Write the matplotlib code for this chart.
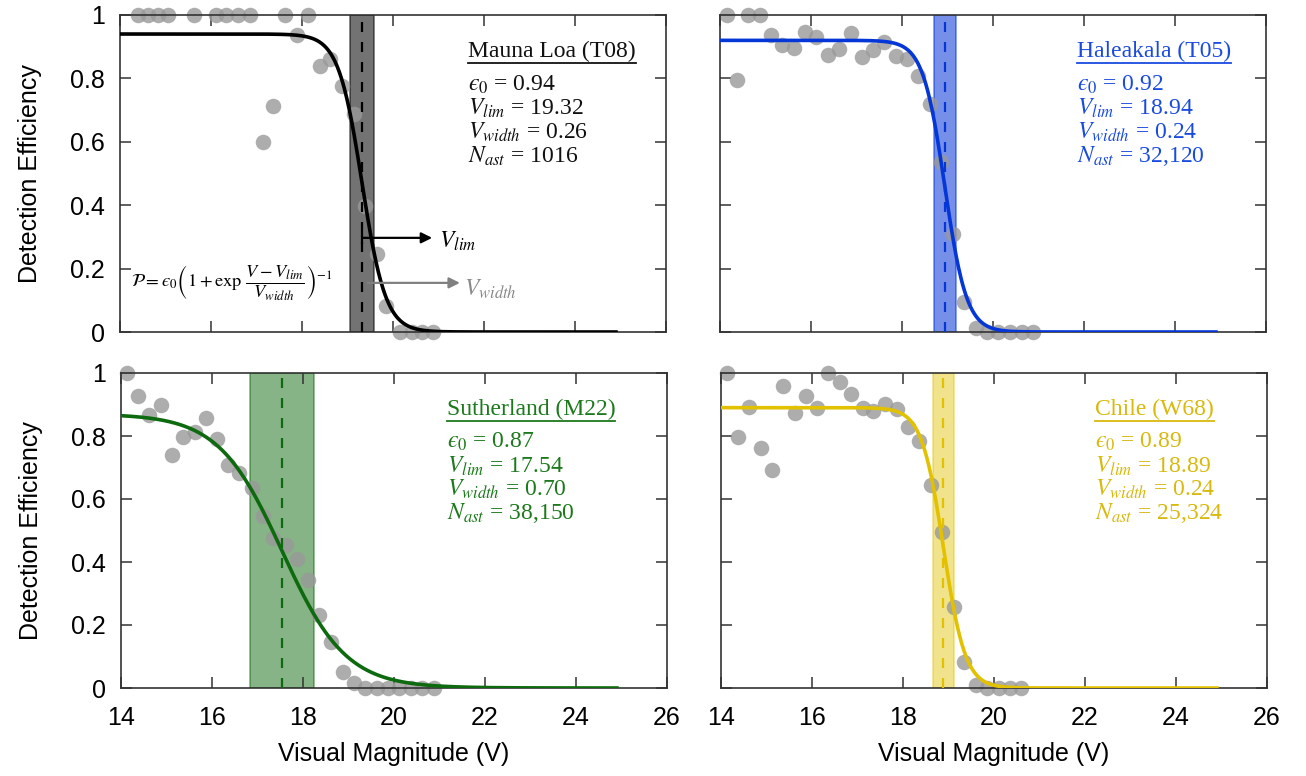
import numpy as np
import matplotlib.pyplot as plt
from matplotlib.lines import Line2D

plt.rcParams['font.family'] = 'Liberation Sans'
plt.rcParams['mathtext.fontset'] = 'stix'

# binned detection efficiency (grey dots)
mag_mauna = [14.40, 14.62, 14.84, 15.06, 15.63, 16.12, 16.34, 16.60, 16.86, 17.14, 17.37, 17.63,
             17.88, 18.14, 18.40, 18.62, 18.87, 19.14, 19.38, 19.64, 19.85, 20.15, 20.41, 20.63, 20.88]
eff_mauna = [1.0, 1.0, 1.0, 1.0, 1.0, 1.0, 1.0, 1.0, 1.0, 0.60, 0.714, 1.0,
             0.938, 1.0, 0.838, 0.862, 0.777, 0.688, 0.399, 0.246, 0.082, 0.0, 0.0, 0.0, 0.0]

mag_hale = [14.15, 14.38, 14.62, 14.88, 15.11, 15.36, 15.63, 15.87, 16.12, 16.37, 16.62, 16.87, 17.13, 17.37,
            17.61, 17.87, 18.10, 18.36, 18.62, 18.86, 19.11, 19.37, 19.63, 19.86, 20.12, 20.37, 20.63, 20.89]
eff_hale = [1.0, 0.796, 1.0, 1.0, 0.938, 0.904, 0.896, 0.947, 0.931, 0.873, 0.894, 0.942, 0.868, 0.889,
            0.915, 0.870, 0.862, 0.807, 0.719, 0.536, 0.309, 0.096, 0.013, 0.0, 0.0, 0.0, 0.0, 0.0]

mag_suth = [14.14, 14.38, 14.62, 14.87, 15.11, 15.37, 15.63, 15.87, 16.12, 16.36, 16.60, 16.87, 17.11, 17.35,
            17.63, 17.87, 18.12, 18.36, 18.61, 18.87, 19.12, 19.37, 19.62, 19.87, 20.12, 20.37, 20.62, 20.87]
eff_suth = [1.0, 0.927, 0.867, 0.898, 0.739, 0.797, 0.814, 0.856, 0.792, 0.708, 0.681, 0.636, 0.546, 0.477,
            0.454, 0.411, 0.343, 0.232, 0.147, 0.052, 0.015, 0.0, 0.0, 0.0, 0.0, 0.0, 0.0, 0.0]

mag_chile = [14.13, 14.37, 14.62, 14.87, 15.11, 15.37, 15.63, 15.87, 16.12, 16.36, 16.62, 16.86, 17.11, 17.35,
             17.60, 17.86, 18.10, 18.35, 18.61, 18.86, 19.11, 19.35, 19.61, 19.85, 20.10, 20.35, 20.60]
eff_chile = [1.0, 0.798, 0.893, 0.763, 0.692, 0.959, 0.872, 0.928, 0.888, 0.999, 0.972, 0.933, 0.888, 0.878,
             0.901, 0.885, 0.830, 0.784, 0.644, 0.496, 0.258, 0.083, 0.01, 0.0, 0.0, 0.0, 0.0]

# fit parameters per site
sites = ['Mauna Loa (T08)', 'Haleakala (T05)', 'Sutherland (M22)', 'Chile (W68)']
eps0 = [0.94, 0.92, 0.87, 0.89]
vlim = [19.32, 18.94, 17.54, 18.89]
vwidth = [0.26, 0.24, 0.70, 0.24]
nast = ['1016', '32,120', '38,150', '25,324']

mags = [mag_mauna, mag_hale, mag_suth, mag_chile]
effs = [eff_mauna, eff_hale, eff_suth, eff_chile]
colors = ['#000000', '#0536d8', '#0e6a0e', '#e2c200']
text_colors = ['#111111', '#1a4be0', '#1c7a1c', '#d8b90c']
band_alpha = [0.55, 0.55, 0.5, 0.45]
text_x = [21.65, 21.85, 21.16, 22.22]

EPS = '\u03f5'  # lunate epsilon

W, H = 1306, 776
fig = plt.figure(figsize=(W / 100, H / 100), dpi=100)
# axes boxes in pixels: left, top, right, bottom
boxes = [(120, 15, 666, 332), (720, 15, 1266, 332), (121, 373, 667, 688), (721, 373, 1267, 688)]

titles = []
for i, (l, t, r, b) in enumerate(boxes):
    ax = fig.add_axes([l / W, 1 - b / H, (r - l) / W, (b - t) / H])
    c = colors[i]
    V = np.linspace(14, 24.9, 600)
    P = eps0[i] / (1 + np.exp((V - vlim[i]) / vwidth[i]))

    ax.axvspan(vlim[i] - vwidth[i], vlim[i] + vwidth[i], facecolor=c, alpha=band_alpha[i],
               edgecolor=c, lw=1.2, zorder=1)
    ax.scatter(mags[i], effs[i], s=125, color='#999999', alpha=0.8, lw=0, clip_on=False, zorder=2)
    ax.plot(V, P, color=c, lw=2.6, zorder=3)
    ax.axvline(vlim[i], color=c, lw=1.6, ls=(0, (4.5, 4.5)), zorder=4)

    ax.set_xlim(14, 26)
    ax.set_ylim(0, 1)
    ax.set_xticks(range(14, 27, 2))
    ax.set_yticks([0, 0.2, 0.4, 0.6, 0.8, 1])
    ax.set_yticklabels(['0', '0.2', '0.4', '0.6', '0.8', '1'])
    ax.tick_params(direction='in', top=True, right=True, length=8, width=1.1,
                   color='#333333', labelsize=18)
    ax.tick_params(axis='x', pad=13)
    ax.tick_params(axis='y', pad=11)
    for s in ax.spines.values():
        s.set_color('#333333')
        s.set_linewidth(1.2)

    if i < 2:
        ax.tick_params(labelbottom=False)
    else:
        ax.set_xlabel('Visual Magnitude (V)', fontsize=18)
        ax.xaxis.set_label_coords(0.5, -0.17)
    if i % 2 == 1:
        ax.tick_params(labelleft=False)
    else:
        ax.set_ylabel('Detection Efficiency', fontsize=18)
        ax.yaxis.set_label_coords(-0.143, 0.5)

    tc = text_colors[i]
    tx = text_x[i]
    titles.append(ax.text(tx, 0.885, sites[i], color=tc, fontsize=17,
                          family='Liberation Serif', va='center'))
    lines = ['$' + EPS + '_0$ = %.2f' % eps0[i],
             r'$V_{lim}$ = %.2f' % vlim[i],
             r'$V_{width}$ = %.2f' % vwidth[i],
             r'$N_{ast}$ = ' + nast[i]]
    for k, s in enumerate(lines):
        ax.text(tx, 0.78 - 0.075 * k, s, color=tc, fontsize=17,
                family='Liberation Serif', va='center')

    if i == 0:
        # model formula and parameter arrows
        ax.text(14.25, 0.155,
                r'$\mathcal{P} = ' + EPS + r'_0\left(1 + \exp\,\dfrac{V - V_{lim}}{V_{width}}\right)^{-1}$',
                fontsize=13.2, va='center')
        ax.annotate('', xy=(20.86, 0.297), xytext=(vlim[i], 0.297),
                    arrowprops=dict(arrowstyle='-|>', color='k', lw=1.6, mutation_scale=16,
                                    shrinkA=0, shrinkB=0), zorder=5)
        ax.plot([vlim[i]], [0.297], marker='|', ms=9, mew=1.6, color='k', zorder=5)
        ax.text(21.02, 0.285, r'$V_{lim}$', fontsize=17, va='center')
        ax.annotate('', xy=(21.47, 0.155), xytext=(19.45, 0.155),
                    arrowprops=dict(arrowstyle='-|>', color='#808080', lw=1.6, mutation_scale=16,
                                    shrinkA=0, shrinkB=0), zorder=5)
        ax.text(21.57, 0.135, r'$V_{width}$', fontsize=17, va='center', color='#8a8a8a')

# underline the site names
fig.canvas.draw()
renderer = fig.canvas.get_renderer()
inv = fig.transFigure.inverted()
for t in titles:
    bb = t.get_window_extent(renderer)
    (x0, y0), (x1, _) = inv.transform([(bb.x0, bb.y0 - 1), (bb.x1, bb.y0 - 1)])
    fig.add_artist(Line2D([x0, x1], [y0, y0], transform=fig.transFigure,
                          color=t.get_color(), lw=1.3))

fig.savefig('out.png', dpi=100)
